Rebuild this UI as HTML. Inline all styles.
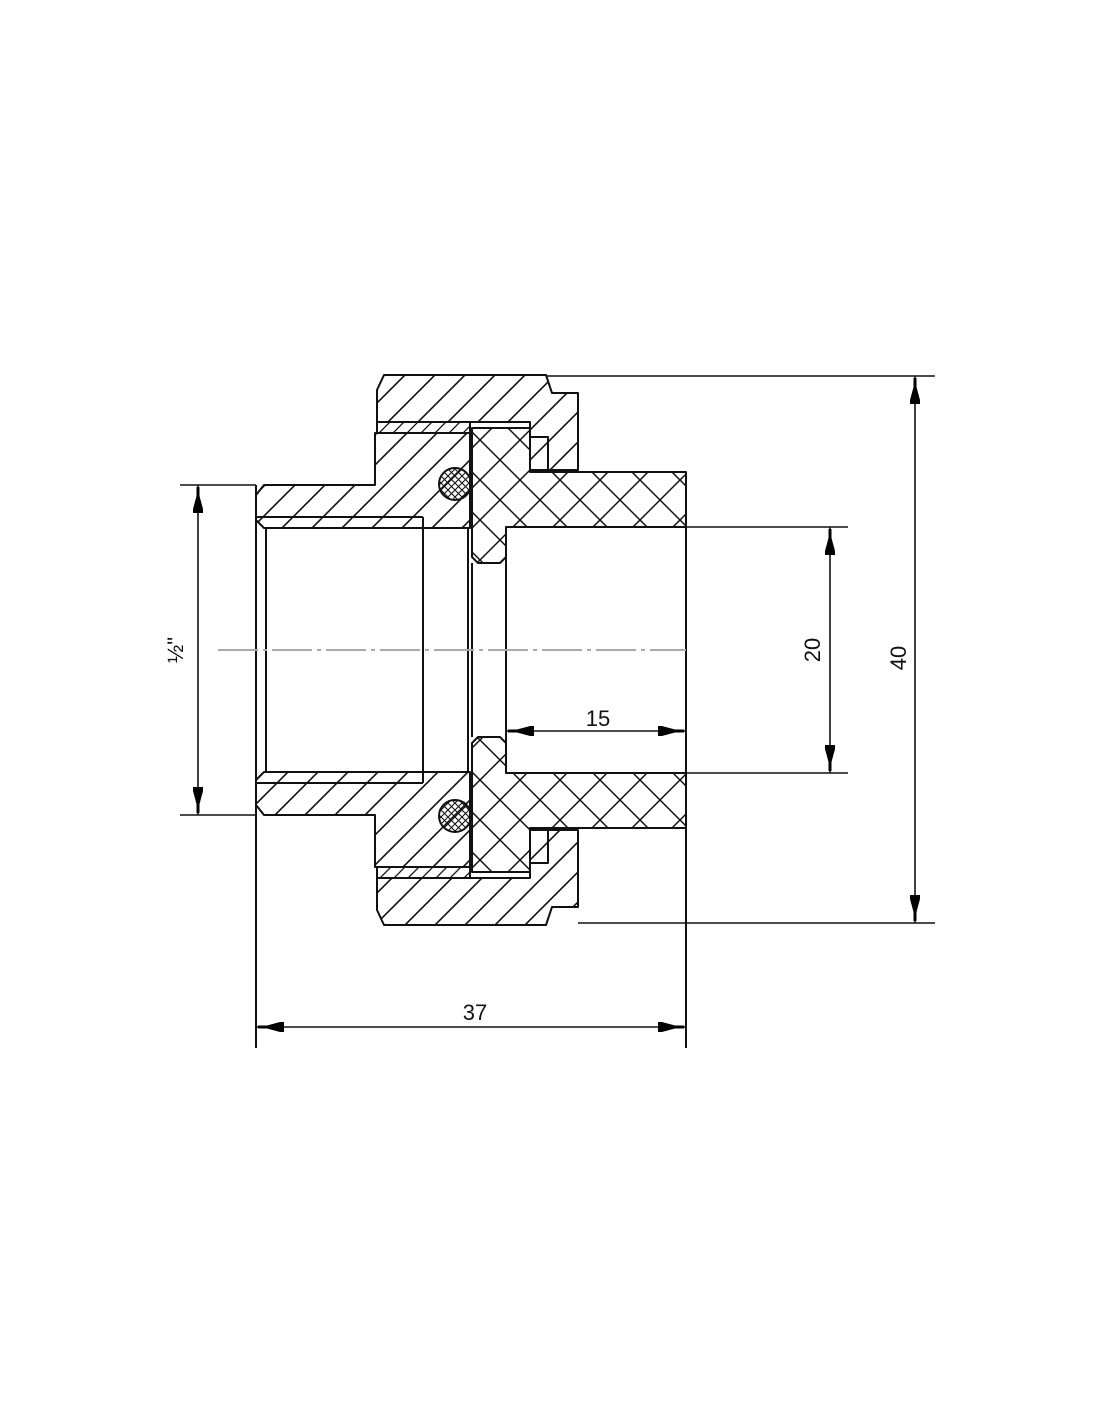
<!DOCTYPE html>
<html><head><meta charset="utf-8"><style>
html,body{margin:0;padding:0;background:#fff;}
svg{display:block;}
text{font-family:"Liberation Sans",sans-serif;font-size:22px;fill:#111;}
</style></head><body>
<svg width="1100" height="1422" viewBox="0 0 1100 1422" xmlns="http://www.w3.org/2000/svg">
<defs>
<pattern id="h1" patternUnits="userSpaceOnUse" width="30" height="30"><path d="M-5,5 L5,-5 M0,30 L30,0 M25,35 L35,25" stroke="#111" stroke-width="1.6"/></pattern>
<pattern id="h2" patternUnits="userSpaceOnUse" width="30" height="30"><path d="M-5,25 L5,35 M0,0 L30,30 M25,-5 L35,5" stroke="#111" stroke-width="1.6"/></pattern>
<pattern id="hs1" patternUnits="userSpaceOnUse" width="14" height="14"><path d="M0,14 L14,0 M-3,3 L3,-3 M11,17 L17,11" stroke="#111" stroke-width="1.3"/></pattern>
<pattern id="hs2" patternUnits="userSpaceOnUse" width="14" height="14"><path d="M0,0 L14,14 M-3,11 L3,17 M11,-3 L17,3" stroke="#111" stroke-width="1.3"/></pattern>
<pattern id="x1" patternUnits="userSpaceOnUse" width="40" height="40"><path d="M0,40 L40,0 M0,0 L40,40 M-5,5 L5,-5 M35,45 L45,35 M-5,35 L5,45 M35,-5 L45,5" stroke="#111" stroke-width="1.5"/></pattern>
<pattern id="xf" patternUnits="userSpaceOnUse" width="7" height="7"><path d="M0,7 L7,0 M0,0 L7,7" stroke="#111" stroke-width="1.1"/></pattern>
<g id="arr"><path d="M0,0 L1.5,0 L1.5,9 L5,22 L5,26 L-5,26 L-5,22 L-1.5,9 L-1.5,0 Z" fill="#000"/></g>
<g id="half-common" fill="none" stroke="#111" stroke-width="2">
</g>
</defs>

<!-- TOP HALF -->
<g stroke="#111" stroke-width="2" stroke-linejoin="round">
  <!-- nut -->
  <path d="M377,390 L384,375 L546,375 L552,393 L578,393 L578,470 L530,470 L530,422 L377,422 Z" fill="url(#h1)"/>
  <!-- thread strip -->
  <rect x="377" y="422" width="93" height="11" fill="url(#hs1)"/>
  <!-- body -->
  <path d="M256,495 L264,485 L375,485 L375,433 L470,433 L470,528 L264,528 L256,520 Z" fill="url(#h1)"/>
  <!-- insert -->
  <path d="M472,428 L530,428 L530,472 L686,472 L686,527 L506,527 L506,557 L500,563 L478,563 L472,557 Z" fill="url(#x1)"/>
  <path d="M530,437 L548,437 L548,472" fill="none"/>
  <!-- o-ring -->
  <circle cx="455" cy="484" r="16" fill="url(#xf)"/>
  <line x1="256" y1="517" x2="423" y2="517"/>
</g>

<!-- BOTTOM HALF (mirrored about y=650) -->
<g transform="translate(0,1300) scale(1,-1)" stroke="#111" stroke-width="2" stroke-linejoin="round">
  <path d="M377,390 L384,375 L546,375 L552,393 L578,393 L578,470 L530,470 L530,422 L377,422 Z" fill="url(#h2)"/>
  <rect x="377" y="422" width="93" height="11" fill="url(#hs2)"/>
  <path d="M256,495 L264,485 L375,485 L375,433 L470,433 L470,528 L264,528 L256,520 Z" fill="url(#h2)"/>
  <path d="M472,428 L530,428 L530,472 L686,472 L686,527 L506,527 L506,557 L500,563 L478,563 L472,557 Z" fill="url(#x1)"/>
  <path d="M530,437 L548,437 L548,472" fill="none"/>
  <circle cx="455" cy="484" r="16" fill="url(#xf)"/>
  <line x1="256" y1="517" x2="423" y2="517"/>
</g>

<!-- inner verticals -->
<g stroke="#111" stroke-width="2">
  <line x1="256" y1="485" x2="256" y2="1048"/>
  <line x1="686" y1="472" x2="686" y2="1048"/>
  <line x1="266" y1="528" x2="266" y2="772"/>
  <line x1="423" y1="517" x2="423" y2="783"/>
  <line x1="468" y1="528" x2="468" y2="772"/>
  <line x1="472" y1="563" x2="472" y2="737"/>
  <line x1="506" y1="527" x2="506" y2="773"/>
</g>
<!-- centerline -->
<line x1="218" y1="650" x2="686" y2="650" stroke="#aaa" stroke-width="2" stroke-dasharray="40,5,4,5"/>

<!-- dimension lines -->
<g stroke="#111" stroke-width="1.6">
  <line x1="180" y1="485" x2="256" y2="485"/>
  <line x1="180" y1="815" x2="256" y2="815"/>
  <line x1="198" y1="485" x2="198" y2="815"/>
  <line x1="546" y1="376" x2="935" y2="376"/>
  <line x1="578" y1="923" x2="935" y2="923"/>
  <line x1="915" y1="376" x2="915" y2="923"/>
  <line x1="686" y1="527" x2="848" y2="527"/>
  <line x1="686" y1="773" x2="848" y2="773"/>
  <line x1="830" y1="527" x2="830" y2="773"/>
  <line x1="506" y1="731" x2="686" y2="731"/>
  <line x1="256" y1="1027" x2="686" y2="1027"/>
</g>
<!-- arrows -->
<use href="#arr" transform="translate(198,487)"/>
<use href="#arr" transform="translate(198,813) rotate(180)"/>
<use href="#arr" transform="translate(915,378)"/>
<use href="#arr" transform="translate(915,921) rotate(180)"/>
<use href="#arr" transform="translate(830,529)"/>
<use href="#arr" transform="translate(830,771) rotate(180)"/>
<use href="#arr" transform="translate(508,731) rotate(-90)"/>
<use href="#arr" transform="translate(684,731) rotate(90)"/>
<use href="#arr" transform="translate(258,1027) rotate(-90)"/>
<use href="#arr" transform="translate(684,1027) rotate(90)"/>

<!-- labels -->
<text x="598" y="726" text-anchor="middle">15</text>
<text x="475" y="1020" text-anchor="middle">37</text>
<text transform="translate(820,650) rotate(-90)" text-anchor="middle">20</text>
<text transform="translate(906,658) rotate(-90)" text-anchor="middle">40</text>
<text transform="translate(183,650) rotate(-90)" text-anchor="middle">½"</text>
</svg>
</body></html>
